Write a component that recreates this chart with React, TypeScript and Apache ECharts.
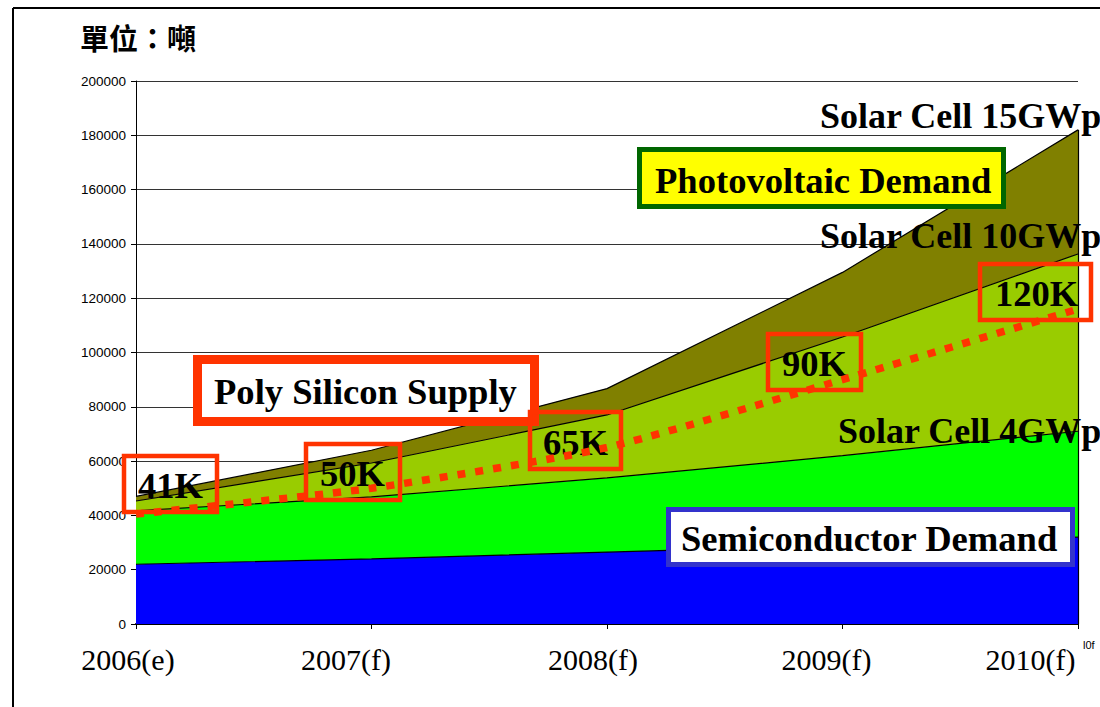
import React, { useEffect, useRef } from "react";
import * as echarts from "echarts";

// ---- data ----
const years = ["2006(e)", "2007(f)", "2008(f)", "2009(f)", "2010(f)"];
// stacked layer amounts (tons)
const semiconductor = [22000, 24000, 26500, 29000, 32000];
const solar4GW = [19700, 22800, 27300, 33000, 39000];
const solar10GW = [3600, 12500, 23200, 43700, 65300];
const solar15GW = [1700, 4700, 9700, 23800, 45700];
const polySupply = [40500, 50000, 65000, 90000, 116000];
const yTicks = [0, 20000, 40000, 60000, 80000, 100000, 120000, 140000, 160000, 180000, 200000];
const supplyLabels = ["41K", "50K", "65K", "90K", "120K"];

const RED = "#FF3300";
const SERIF = '"Liberation Serif", "Times New Roman", serif';

export default function App() {
  const ref = useRef<HTMLDivElement>(null);
  useEffect(() => {
    if (!ref.current) return;
    const chart = echarts.init(ref.current, null, { renderer: "svg" });
    const labelPads = [16, 51, 28, 32, 95];
    const rich: Record<string, any> = {};
    labelPads.forEach((p, i) => {
      rich["l" + i] = { fontFamily: SERIF, fontSize: 30, color: "#000", padding: [0, p, 0, 0] };
    });
    const boxPos = [
      { x: 124, y: 456, w: 93, h: 56, tx: 138, ty: 485 },
      { x: 306, y: 444, w: 94, h: 56, tx: 320, ty: 473 },
      { x: 530, y: 412, w: 91, h: 57, tx: 543, ty: 442 },
      { x: 768, y: 334, w: 93, h: 56, tx: 782, ty: 363 },
      { x: 980, y: 264, w: 111, h: 56, tx: 995, ty: 293 },
    ];
    const cellFont = `bold 36px ${SERIF}`;
    const boxFont = `bold 36.6px ${SERIF}`;
    const graphics: any[] = [
      { type: "line", z: 10, shape: { x1: 13, y1: 8, x2: 13, y2: 707 }, style: { stroke: "#000", lineWidth: 2 } },
      { type: "line", z: 10, shape: { x1: 13, y1: 8, x2: 1100, y2: 8 }, style: { stroke: "#000", lineWidth: 2 } },
      {
        type: "text", z: 10, x: 80, y: 37,
        style: { text: "單位：噸", font: 'bold 29px "Noto Sans CJK TC"', fill: "#000", textVerticalAlign: "middle" },
      },
      {
        type: "text", z: 10, x: 1083, y: 645,
        style: { text: "l0f", font: '11px "Liberation Sans", Arial', fill: "#000", textVerticalAlign: "middle" },
      },
      { type: "text", z: 10, x: 820, y: 116, style: { text: "Solar Cell 15GWp", font: cellFont, fill: "#000", textVerticalAlign: "middle" } },
      { type: "text", z: 10, x: 820, y: 236, style: { text: "Solar Cell 10GWp", font: cellFont, fill: "#000", textVerticalAlign: "middle" } },
      { type: "text", z: 10, x: 838, y: 431, style: { text: "Solar Cell 4GWp", font: cellFont, fill: "#000", textVerticalAlign: "middle" } },
      { type: "rect", z: 10, shape: { x: 639.5, y: 149.5, width: 364, height: 57 }, style: { fill: "#FFFF00", stroke: "#006600", lineWidth: 5 } },
      { type: "text", z: 11, x: 655, y: 180, style: { text: "Photovoltaic Demand", font: boxFont, fill: "#000", textVerticalAlign: "middle" } },
      { type: "rect", z: 10, shape: { x: 668.5, y: 509.5, width: 404, height: 55 }, style: { fill: "#FFFFFF", stroke: "#3333CC", lineWidth: 5 } },
      { type: "text", z: 11, x: 681, y: 538, style: { text: "Semiconductor Demand", font: boxFont, fill: "#000", textVerticalAlign: "middle" } },
      { type: "rect", z: 10, shape: { x: 197.5, y: 359.5, width: 337, height: 62 }, style: { fill: "#FFFFFF", stroke: RED, lineWidth: 9 } },
      { type: "text", z: 11, x: 214, y: 391, style: { text: "Poly Silicon Supply", font: boxFont, fill: "#000", textVerticalAlign: "middle" } },
    ];
    supplyLabels.forEach((t, i) => {
      const b = boxPos[i];
      graphics.push({ type: "rect", z: 10, shape: { x: b.x, y: b.y, width: b.w, height: b.h }, style: { fill: "none", stroke: RED, lineWidth: 4.5 } });
      graphics.push({ type: "text", z: 11, x: b.tx, y: b.ty, style: { text: t, font: boxFont, fill: "#000", textVerticalAlign: "middle" } });
    });

    const areaSeries = (name: string, data: number[], color: string, extra: any = {}) => ({
      name, type: "line", stack: "demand", data, smooth: false, showSymbol: false, symbol: "none",
      lineStyle: { color: "#000", width: 1.2 },
      areaStyle: { color, opacity: 1 },
      z: 2,
      ...extra,
    });

    chart.setOption({
      animation: false,
      backgroundColor: "#fff",
      grid: { left: 136, right: 22, top: 81, bottom: 83, containLabel: false },
      xAxis: {
        type: "category", data: years, boundaryGap: false,
        axisLine: { lineStyle: { color: "#000", width: 2 } },
        axisTick: { show: true, length: 5, lineStyle: { color: "#000" } },
        axisLabel: {
          margin: 20,
          interval: 0,
          formatter: (v: string, i: number) => `{l${i}|${v}}`,
          rich,
        },
        splitLine: { show: false },
      },
      yAxis: {
        type: "value", min: yTicks[0], max: yTicks[yTicks.length - 1], interval: 20000,
        axisLine: { show: true, lineStyle: { color: "#000", width: 1 } },
        axisTick: { show: true, length: 5, lineStyle: { color: "#000" } },
        axisLabel: {
          margin: 10, fontFamily: '"Liberation Sans", Arial', fontSize: 13.5, color: "#000",
          formatter: (v: number) => String(v),
        },
        splitLine: { show: true, lineStyle: { color: "#333", width: 1 } },
      },
      series: [
        areaSeries("Semiconductor", semiconductor, "#0000FF"),
        areaSeries("Solar Cell 4GWp", solar4GW, "#00FF00"),
        areaSeries("Solar Cell 10GWp", solar10GW, "#99CC00"),
        areaSeries("Solar Cell 15GWp", solar15GW, "#808000", {
          markLine: {
            silent: true, symbol: "none", label: { show: false },
            lineStyle: { color: "#000", width: 1.2, type: "solid" },
            data: [[{ coord: [4, 0] }, { coord: [4, semiconductor[4] + solar4GW[4] + solar10GW[4] + solar15GW[4]] }]],
          },
        }),
        {
          name: "Poly Silicon Supply", type: "line", data: polySupply, smooth: 0.2, showSymbol: false, symbol: "none",
          lineStyle: { color: RED, width: 7.5, type: [8, 10], cap: "butt" },
          z: 20,
        },
      ],
      graphic: graphics,
    });
    return () => chart.dispose();
  }, []);
  return <div ref={ref} style={{ position: "fixed", left: 0, top: 0, width: 1100, height: 707 }} />;
}
